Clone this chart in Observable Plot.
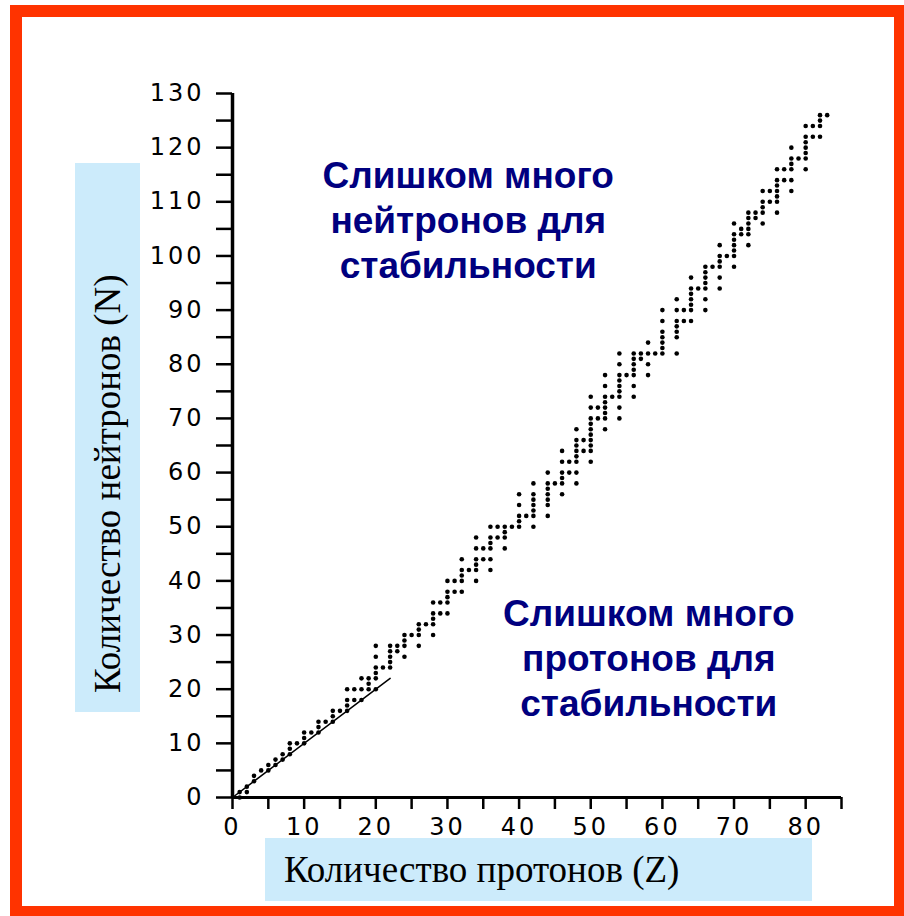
<!DOCTYPE html>
<html>
<head>
<meta charset="utf-8">
<script src="https://cdn.jsdelivr.net/npm/d3@7"></script>
<script src="https://cdn.jsdelivr.net/npm/@observablehq/plot@0.6"></script>
<style>
  html, body { margin: 0; padding: 0; background: #fff; }
  #page { position: relative; width: 904px; height: 916px; overflow: hidden; background: #fff; }
  #frame { position: absolute; left: 10px; top: 5px; width: 896px; height: 913px; border: 12px solid #FF3300; box-sizing: border-box; z-index: 3; }
  .lbl { position: absolute; background: #CCEBFB; font-family: "Liberation Serif", "Times New Roman", serif; font-size: 37px; color: #000; white-space: nowrap; box-sizing: border-box; z-index: 2; }
  #xlab { left: 265px; top: 838px; width: 547px; height: 63px; line-height: 63px; padding-left: 19px; }
  #ylab { left: 75px; top: 712px; width: 549px; height: 65px; line-height: 65px; padding-left: 19px; transform-origin: 0 0; transform: rotate(-90deg); }
  #chart { position: absolute; left: 0; top: 0; z-index: 1; }
  #chart g[aria-label$="tick label"] text { letter-spacing: 3px; }
</style>
</head>
<body>
<div id="page">
  <div id="chart"></div>
  <div id="ylab" class="lbl"></div>
  <div id="xlab" class="lbl"></div>
  <div id="frame"></div>
</div>
<script>
// Stable nuclides: for each proton number Z (1..83), the neutron numbers N shown as dots
const protonNumbers = d3.range(1, 84);
const neutronsByZ = [
  [0,1],[1,2],[3,4],[5],[5,6],[6,7],[7,8],[8,9,10],[10],[10,11,12],
  [12],[12,13,14],[14],[14,15,16],[16],[16,17,18,20],[18,20],[18,20,22],[20,21,22],[20,22,23,24,26,28],
  [24],[24,25,26,27,28],[27,28],[26,28,29,30],[30],[28,30,31,32],[32],[30,32,33,34,36],[34,36],[34,36,37,38,40],
  [38,40],[38,40,41,42,44],[42],[40,42,43,44,46,48],[44,46],[42,44,46,47,48,50],[48,50],[46,48,49,50],[50],[50,51,52,54,56],
  [52],[50,52,53,54,55,56,58],[],[52,54,55,56,57,58,60],[58],[56,58,59,60,62,64],[60,62],[58,60,62,63,64,65,66,68],[64,66],[62,64,65,66,67,68,69,70,72,74],
  [70,72],[68,70,71,72,73,74,76,78],[74],[70,72,74,75,76,77,78,80,82],[78],[74,76,78,79,80,81,82],[81,82],[78,80,82,84],[82],[82,83,84,85,86,88,90],
  [],[82,85,86,87,88,90,92],[88,90],[88,90,91,92,93,94,96],[94],[90,92,94,95,96,97,98],[98],[94,96,98,99,100,102],[100],[98,100,101,102,103,104,106],
  [104,105],[102,104,105,106,107,108],[107,108],[106,108,109,110,112],[110,112],[108,110,111,112,113,114,116],[114,116],[112,114,116,117,118,120],[118],[116,118,119,120,121,122,124],
  [122,124],[122,124,125,126],[126]
];
// N = Z reference line
const equalLineZ = [0, 22];
const equalLineN = [0, 22];
// Axis ticks
const xTicks = d3.range(0, 86, 5);
const yTicks = d3.range(0, 131, 5);
// Texts
const xTitle = "Количество протонов (Z)";
const yTitle = "Количество нейтронов (N)";
const noteNeutrons = "Слишком много\nнейтронов для\nстабильности";
const noteProtons = "Слишком много\nпротонов для\nстабильности";
const notePositions = [{z: 32.9, n: 106.9, text: noteNeutrons}, {z: 58.1, n: 26.0, text: noteProtons}];

const nuclides = protonNumbers.flatMap((z, i) => neutronsByZ[i].map(n => ({z, n})));
const diagonal = equalLineZ.map((z, i) => ({z, n: equalLineN[i]}));

const tickFont = {fontSize: 24, fontFamily: "DejaVu Sans, sans-serif"};

const plot = Plot.plot({
  width: 904,
  height: 916,
  marginLeft: 232,
  marginRight: 63,
  marginTop: 93,
  marginBottom: 119,
  style: {background: "transparent", fontFamily: "DejaVu Sans, sans-serif", fontSize: "24px", color: "#000"},
  x: {domain: [0, 85]},
  y: {domain: [0, 130]},
  marks: [
    Plot.axisX({ticks: xTicks, tickFormat: d => d % 10 === 0 ? String(d) : "", tickSize: 12, tickPadding: 8, strokeWidth: 2.5, label: null, ...tickFont}),
    Plot.axisY({ticks: yTicks, tickFormat: d => d % 10 === 0 ? String(d) : "", tickSize: 16, tickPadding: 12, strokeWidth: 2.5, label: null, ...tickFont}),
    Plot.ruleY([0], {x1: 0, x2: 85, stroke: "#000", strokeWidth: 3}),
    Plot.ruleX([0], {y1: 0, y2: 130, stroke: "#000", strokeWidth: 3.5}),
    Plot.line(diagonal, {x: "z", y: "n", stroke: "#000", strokeWidth: 1.5}),
    Plot.dot(nuclides, {x: "z", y: "n", r: 2.3, fill: "#000", stroke: "none"}),
    Plot.text(notePositions, {x: "z", y: "n", text: "text", fontSize: 37, fontWeight: "bold", fontFamily: "Liberation Sans, Arial, sans-serif", fill: "#00007F", lineHeight: 1.22, textAnchor: "middle"})
  ]
});
document.getElementById("chart").appendChild(plot);
document.getElementById("xlab").textContent = xTitle;
document.getElementById("ylab").textContent = yTitle;
</script>
</body>
</html>
